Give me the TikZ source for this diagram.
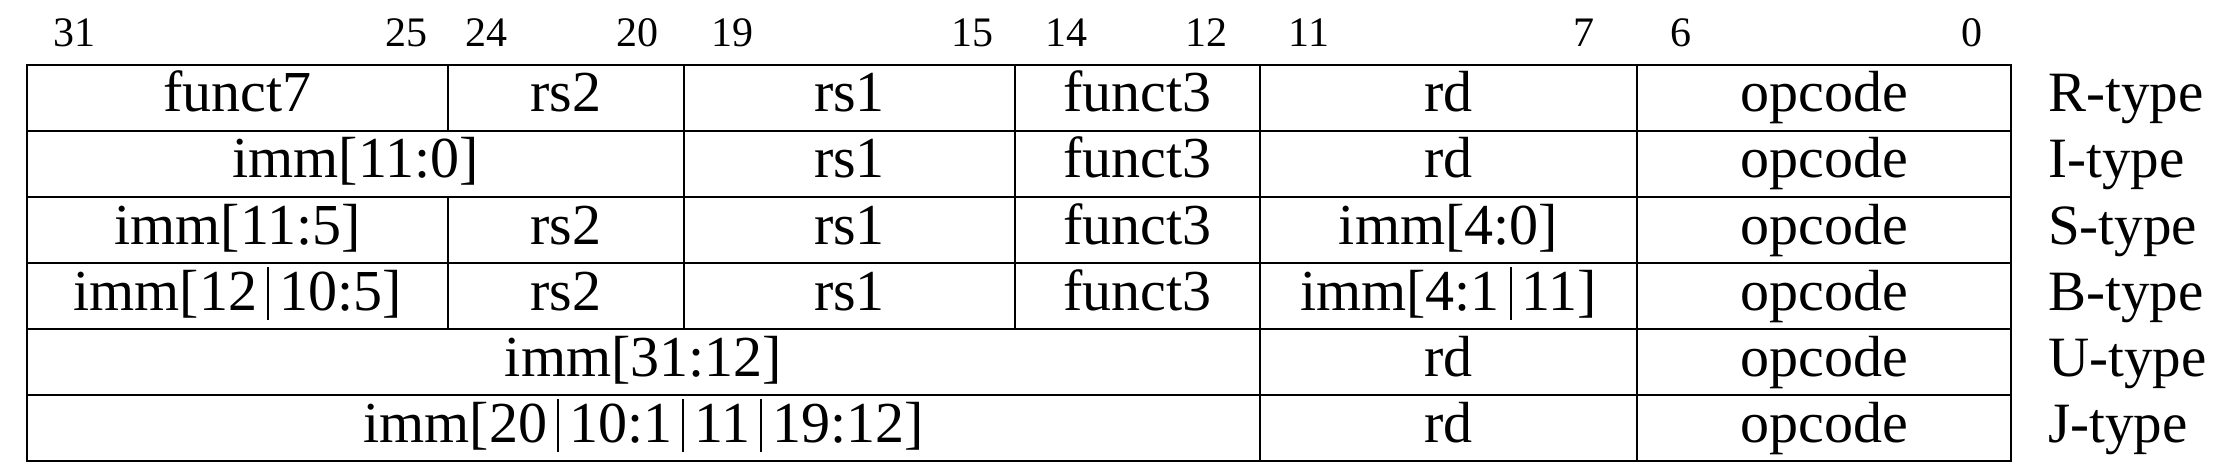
\documentclass[tikz,border=0pt]{standalone}
\usepackage{fontspec}
\setmainfont{Liberation Serif}
\newcommand{\vbarsep}{\hspace{10pt}\rule[-10pt]{2pt}{53pt}\hspace{10pt}}
\begin{document}
\begin{tikzpicture}[x=1pt,y=-1pt,
  cell/.style={draw, line width=2.4pt, rectangle, inner sep=0pt, minimum height=66pt,
    text height=41pt, text depth=13pt, font=\fontsize{58}{62}\selectfont},
  hdr/.style={anchor=base, inner sep=0pt, font=\fontsize{42}{46}\selectfont},
  typ/.style={anchor=base west, inner sep=0pt, font=\fontsize{57}{62}\selectfont}]
\useasboundingbox (0,0) rectangle (2217,476);
% bit numbers
\node[hdr] (b31) at (74,47) {31};
\node[hdr] (b25) at (406,47) {25};
\node[hdr] (b24) at (486,47) {24};
\node[hdr] (b20) at (637,47) {20};
\node[hdr] (b19) at (732,47) {19};
\node[hdr] (b15) at (972,47) {15};
\node[hdr] (b14) at (1066,47) {14};
\node[hdr] (b12) at (1206,47) {12};
\node[hdr] (b11) at (1309,47) {11};
\node[hdr] (b7) at (1584,47) {7};
\node[hdr] (b6) at (1681,47) {6};
\node[hdr] (b0) at (1972,47) {0};
% R-type
\node[cell, minimum width=421pt] (ra) at (237.5,98) {funct7};
\node[cell, minimum width=236pt] (rb) at (566,98) {rs2};
\node[cell, minimum width=331pt] (rc) at (849.5,98) {rs1};
\node[cell, minimum width=245pt] (rd) at (1137.5,98) {funct3};
\node[cell, minimum width=377pt] (re) at (1448.5,98) {rd};
\node[cell, minimum width=374pt] (rf) at (1824,98) {opcode};
\node[typ] (rt) at (2048,112) {R-type};
% I-type
\node[cell, minimum width=657pt] (ia) at (355.5,164) {imm[11:0]};
\node[cell, minimum width=331pt] (ic) at (849.5,164) {rs1};
\node[cell, minimum width=245pt] (id) at (1137.5,164) {funct3};
\node[cell, minimum width=377pt] (ie) at (1448.5,164) {rd};
\node[cell, minimum width=374pt] (if) at (1824,164) {opcode};
\node[typ] (it) at (2048,178) {I-type};
% S-type
\node[cell, minimum width=421pt] (sa) at (237.5,230) {imm[11:5]};
\node[cell, minimum width=236pt] (sb) at (566,230) {rs2};
\node[cell, minimum width=331pt] (sc) at (849.5,230) {rs1};
\node[cell, minimum width=245pt] (sd) at (1137.5,230) {funct3};
\node[cell, minimum width=377pt] (se) at (1448.5,230) {imm[4:0]};
\node[cell, minimum width=374pt] (sf) at (1824,230) {opcode};
\node[typ] (st) at (2048,244) {S-type};
% B-type
\node[cell, minimum width=421pt] (ba) at (237.5,296) {imm[12\vbarsep10:5]};
\node[cell, minimum width=236pt] (bb) at (566,296) {rs2};
\node[cell, minimum width=331pt] (bc) at (849.5,296) {rs1};
\node[cell, minimum width=245pt] (bd) at (1137.5,296) {funct3};
\node[cell, minimum width=377pt] (be) at (1448.5,296) {imm[4:1\vbarsep11]};
\node[cell, minimum width=374pt] (bf) at (1824,296) {opcode};
\node[typ] (bt) at (2048,310) {B-type};
% U-type
\node[cell, minimum width=1233pt] (ua) at (643.5,362) {imm[31:12]};
\node[cell, minimum width=377pt] (ue) at (1448.5,362) {rd};
\node[cell, minimum width=374pt] (uf) at (1824,362) {opcode};
\node[typ] (ut) at (2048,376) {U-type};
% J-type
\node[cell, minimum width=1233pt] (ja) at (643.5,428) {imm[20\vbarsep10:1\vbarsep11\vbarsep19:12]};
\node[cell, minimum width=377pt] (je) at (1448.5,428) {rd};
\node[cell, minimum width=374pt] (jf) at (1824,428) {opcode};
\node[typ] (jt) at (2048,442) {J-type};
\end{tikzpicture}
\end{document}
